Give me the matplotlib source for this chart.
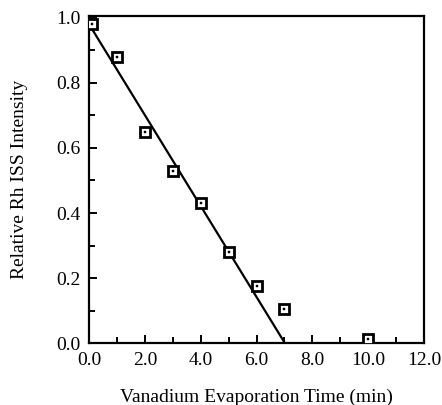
import matplotlib
matplotlib.use("Agg")
import matplotlib.pyplot as plt
from matplotlib.ticker import MultipleLocator, FormatStrFormatter

# Data
time_min = [0.1, 1.0, 2.0, 3.0, 4.0, 5.0, 6.0, 7.0, 10.0]
rel_intensity = [0.98, 0.88, 0.65, 0.53, 0.43, 0.28, 0.175, 0.105, 0.012]
fit_x = [0.0, 7.02]
fit_y = [0.98, 0.0]

plt.rcParams['font.family'] = ['Liberation Serif', 'DejaVu Serif']

fig = plt.figure(figsize=(4.42, 4.05), dpi=100)
ax = fig.add_axes([0.2014, 0.1523, 0.7579, 0.8082])

ax.plot(fit_x, fit_y, color='black', lw=1.6, zorder=2)
ax.plot(time_min, rel_intensity, linestyle='none', marker='s', markersize=7.5,
        markerfacecolor='white', markeredgecolor='black', markeredgewidth=2.0, zorder=3)
ax.plot(time_min, rel_intensity, linestyle='none', marker='s', markersize=1.6,
        markerfacecolor='black', markeredgecolor='black', markeredgewidth=0.3, zorder=4)

ax.set_xlim(0, 12)
ax.set_ylim(0, 1.005)
ax.xaxis.set_major_locator(MultipleLocator(2))
ax.xaxis.set_minor_locator(MultipleLocator(1))
ax.yaxis.set_major_locator(MultipleLocator(0.2))
ax.yaxis.set_minor_locator(MultipleLocator(0.1))
ax.xaxis.set_major_formatter(FormatStrFormatter('%.1f'))
ax.yaxis.set_major_formatter(FormatStrFormatter('%.1f'))

ax.tick_params(which='both', direction='in', top=False, right=False, width=1.4, labelsize=14)
ax.tick_params(which='major', length=6)
ax.tick_params(which='minor', length=4)
ax.tick_params(axis='x', pad=6)
ax.tick_params(axis='y', pad=6)
for s in ax.spines.values():
    s.set_linewidth(1.6)

ax.set_xlabel('Vanadium Evaporation Time (min)', fontsize=14, labelpad=14.5)
ax.set_ylabel('Relative Rh ISS Intensity', fontsize=14, labelpad=20.5)

fig.savefig('out.png', dpi=100)
